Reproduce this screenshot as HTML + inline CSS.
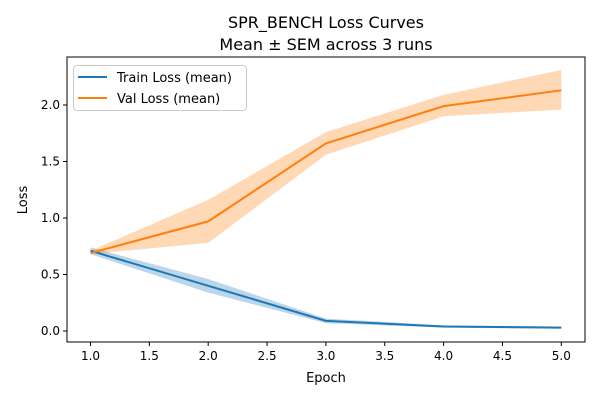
<!DOCTYPE html>
<html><head><meta charset="utf-8"><style>
body{margin:0;background:#fff;}
svg{font-family:"DejaVu Sans","Liberation Sans",sans-serif;}
</style></head><body>
<svg id="chart" width="600" height="400">
<text x="326" y="28" text-anchor="middle" font-size="16">SPR_BENCH Loss Curves</text>
<text x="326" y="50" text-anchor="middle" font-size="16">Mean ± SEM across 3 runs</text>
<g id="plot"></g>
<text x="326" y="382" text-anchor="middle" font-size="13">Epoch</text>
<text x="27" y="200" text-anchor="middle" font-size="13" transform="rotate(-90 27 200)">Loss</text>
</svg>
<script>
const epochs=[1,2,3,4,5];
const trainMean=[0.71,0.40,0.09,0.04,0.03];
const trainUpper=[0.74,0.46,0.11,0.05,0.04];
const trainLower=[0.68,0.34,0.07,0.03,0.02];
const valMean=[0.69,0.97,1.66,1.99,2.13];
const valUpper=[0.71,1.16,1.76,2.09,2.31];
const valLower=[0.68,0.78,1.56,1.90,1.96];
const xTicks=[1.0,1.5,2.0,2.5,3.0,3.5,4.0,4.5,5.0];
const yTicks=[0.0,0.5,1.0,1.5,2.0];
const L=67,R=585,T=57,B=342;
const xs=v=>90.5+(v-1)*117.7;
const ys=v=>331-v*113;
const NS="http://www.w3.org/2000/svg";
const g=document.getElementById('plot');
function mk(tag,attrs){const e=document.createElementNS(NS,tag);for(const k in attrs)e.setAttribute(k,attrs[k]);g.appendChild(e);return e;}
function band(up,lo,color,name){
  let pts=epochs.map((e,i)=>xs(e)+','+ys(up[i]));
  for(let i=epochs.length-1;i>=0;i--)pts.push(xs(epochs[i])+','+ys(lo[i]));
  const p=mk('polygon',{points:pts.join(' '),fill:color,'fill-opacity':0.3});
  
  
}
function line(m,color,name){
  const p=mk('polyline',{points:epochs.map((e,i)=>xs(e)+','+ys(m[i])).join(' '),fill:'none',stroke:color,'stroke-width':2});
  
  
}
band(trainUpper,trainLower,'#1f77b4','train-sem-band');
band(valUpper,valLower,'#ff7f0e','val-sem-band');
line(trainMean,'#1f77b4','train-loss-line');
line(valMean,'#ff7f0e','val-loss-line');
const fr=mk('rect',{x:L,y:T,width:R-L,height:B-T,fill:'none',stroke:'#000','stroke-width':1});


xTicks.forEach(t=>{
  mk('line',{x1:xs(t),x2:xs(t),y1:B,y2:B+4,stroke:'#000'});
  const tx=mk('text',{x:xs(t),y:B+18,'text-anchor':'middle','font-size':12});
  tx.textContent=t.toFixed(1);
  
  
});
yTicks.forEach(t=>{
  mk('line',{x1:L-4,x2:L,y1:ys(t),y2:ys(t),stroke:'#000'});
  const tx=mk('text',{x:L-7,y:ys(t)+4,'text-anchor':'end','font-size':12});
  tx.textContent=t.toFixed(1);
  
  
});
const lg=mk('rect',{x:73.5,y:65.5,width:173,height:45,rx:3,fill:'#fff','fill-opacity':0.8,stroke:'#ccc'});


[['Train Loss (mean)','#1f77b4'],['Val Loss (mean)','#ff7f0e']].forEach((d,i)=>{
  const y=77+i*21;
  mk('line',{x1:78,x2:107,y1:y,y2:y,stroke:d[1],'stroke-width':2});
  const tx=mk('text',{x:117,y:y+5,'font-size':13});
  tx.textContent=d[0];
  
  
});
</script>
</body></html>
